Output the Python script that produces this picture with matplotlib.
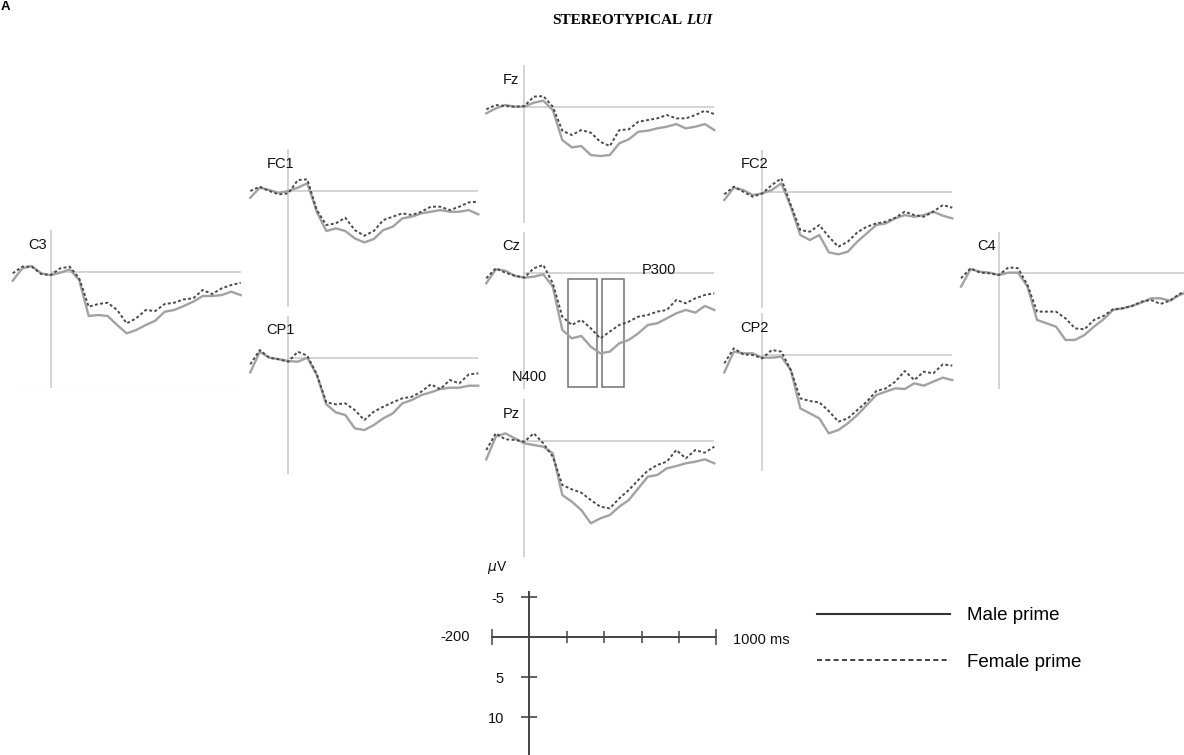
import matplotlib
matplotlib.use("Agg")
import matplotlib.pyplot as plt
from matplotlib.lines import Line2D
from matplotlib.patches import Rectangle

# ---------------- data (ms, microvolts; negative up) ----------------
TIME_MS = [-200, -150, -100, -50, 0, 50, 100, 150, 200, 250, 300, 350, 400,
           450, 500, 550, 600, 650, 700, 750, 800, 850, 900, 950, 1000]

FZ_MALE = [0.83, 0.21, -0.21, 0, 0, -0.5, -0.75, 0.42, 4.17, 5.08, 4.92, 6.04, 6.17,
           6.04, 4.58, 4.08, 3.13, 3.0, 2.71, 2.5, 2.17, 2.71, 2.5, 2.17, 2.92]
FZ_FEMALE = [0.33, -0.21, -0.08, 0, -0.08, -1.25, -1.33, 0, 3.0, 3.54, 2.92, 3.25, 4.38,
             4.92, 2.92, 2.83, 1.88, 1.67, 1.46, 1.04, 1.46, 1.46, 1.04, 0.5, 0.92]

CZ_MALE = [1.25, -0.5, -0.33, 0.33, 0.54, 0.42, 0.13, 1.67, 7.08, 8.13, 7.83, 9.17, 10.0,
           9.79, 8.75, 8.33, 7.5, 6.46, 6.25, 5.63, 5.0, 4.58, 4.92, 4.08, 4.58]
CZ_FEMALE = [0.63, -0.63, -0.08, 0.29, 0.54, -0.63, -1.04, 1.25, 5.42, 6.46, 5.83, 6.88, 8.13,
             7.29, 6.46, 6.04, 5.42, 5.21, 4.79, 4.58, 3.33, 3.75, 3.13, 2.71, 2.5]

C3_MALE = [1.13, -0.42, -0.71, 0.21, 0.42, 0.13, -0.29, 1.04, 5.54, 5.42, 5.54, 6.67, 7.71,
           7.29, 6.67, 6.13, 5.0, 4.79, 4.29, 3.75, 3.04, 3.04, 2.92, 2.5, 2.92]
C3_FEMALE = [0.21, -0.63, -0.63, 0.29, 0.42, -0.42, -0.63, 0.83, 4.38, 4.04, 3.88, 4.79, 6.46,
             5.83, 4.79, 4.92, 4.04, 3.88, 3.46, 3.33, 2.29, 2.79, 2.08, 1.67, 1.38]

FC1_MALE = [0.88, -0.38, -0.08, 0.25, 0.04, -0.38, -0.92, 2.63, 5.04, 4.71, 5.04, 5.96, 6.46,
            6.04, 4.92, 4.5, 3.46, 3.25, 2.83, 2.63, 2.42, 2.63, 2.63, 2.42, 2.96]
FC1_FEMALE = [0.04, -0.5, 0.04, 0.46, 0.33, -1.33, -1.42, 2.42, 4.29, 4.08, 3.38, 4.92, 5.63,
              5.04, 3.67, 3.25, 2.83, 3.04, 2.63, 2.0, 2.0, 2.42, 2.0, 1.46, 1.38]

CP1_MALE = [1.83, -0.75, 0, 0.17, 0.42, 0.5, 0, 2.17, 5.83, 6.83, 7.17, 8.83, 9.04,
            8.42, 7.58, 6.96, 5.71, 5.29, 4.67, 4.33, 3.92, 3.75, 3.75, 3.5, 3.5]
CP1_FEMALE = [0.83, -0.96, 0, 0.21, 0.5, -0.75, -0.25, 2.08, 5.58, 5.83, 5.71, 6.54, 7.79,
              6.75, 6.13, 5.58, 5.08, 4.88, 4.25, 3.33, 3.92, 2.79, 3.21, 2.08, 1.96]

PZ_MALE = [2.29, -0.54, -0.96, -0.33, 0.29, 0.5, 0.71, 1.54, 6.75, 7.58, 8.63, 10.29, 9.67,
           9.25, 8.21, 7.38, 5.92, 4.46, 4.25, 3.42, 3.13, 2.79, 2.58, 2.29, 2.79]
PZ_FEMALE = [1.13, -0.96, -0.21, -0.13, 0.08, -0.96, 0.29, 1.96, 5.5, 6.04, 6.46, 7.38, 8.21,
             8.42, 7.17, 6.13, 4.88, 3.71, 3.0, 2.58, 1.13, 2.17, 1.13, 1.46, 0.71]

FC2_MALE = [1.04, -0.5, -0.21, 0.42, 0.21, -0.21, -1.04, 1.88, 5.42, 6.04, 5.42, 7.58, 7.83,
            7.5, 6.25, 5.21, 4.17, 3.96, 3.33, 2.92, 3.13, 2.92, 2.5, 3.0, 3.33]
FC2_FEMALE = [0.33, -0.63, 0, 0.63, 0.21, -0.83, -1.67, 1.67, 4.79, 5.0, 4.17, 5.63, 6.88,
              6.25, 5.08, 4.38, 3.96, 3.75, 3.25, 2.5, 2.92, 3.13, 2.5, 1.67, 2.0]

CP2_MALE = [2.17, -0.42, -0.21, -0.21, 0.33, 0.33, 0.21, 1.88, 6.67, 7.29, 7.92, 9.79, 9.38,
            8.54, 7.5, 6.25, 5.0, 4.58, 4.17, 4.25, 3.54, 3.83, 3.33, 2.83, 3.13]
CP2_FEMALE = [1.04, -0.83, -0.08, 0, 0.42, -0.63, -0.42, 1.88, 5.42, 5.75, 5.92, 7.0, 8.33,
              7.92, 6.88, 5.83, 4.5, 4.17, 3.33, 2.0, 3.13, 2.08, 2.29, 1.17, 1.33]

C4_MALE = [1.67, -0.5, -0.21, -0.08, 0.21, -0.08, -0.08, 1.67, 5.83, 6.25, 6.67, 8.33, 8.33,
           7.71, 6.67, 5.75, 4.58, 4.38, 4.08, 3.67, 3.13, 3.13, 3.42, 2.71, 2.29]
C4_FEMALE = [0.63, -0.63, -0.08, 0, 0.21, -0.75, -0.63, 1.46, 4.79, 4.79, 4.79, 5.63, 6.88,
             7.0, 5.83, 5.33, 4.5, 4.38, 4.08, 3.54, 3.33, 3.83, 3.42, 2.58, 2.08]

ELECTRODES = ["Fz", "FC1", "FC2", "C3", "Cz", "C4", "CP1", "CP2", "Pz"]
SERIES = {
    "Fz": (FZ_MALE, FZ_FEMALE), "FC1": (FC1_MALE, FC1_FEMALE), "FC2": (FC2_MALE, FC2_FEMALE),
    "C3": (C3_MALE, C3_FEMALE), "Cz": (CZ_MALE, CZ_FEMALE), "C4": (C4_MALE, C4_FEMALE),
    "CP1": (CP1_MALE, CP1_FEMALE), "CP2": (CP2_MALE, CP2_FEMALE), "Pz": (PZ_MALE, PZ_FEMALE),
}

N400_WINDOW_MS = [230, 380]
P300_WINDOW_MS = [410, 525]
WINDOW_UV = [0.7, 14.2]

SCALE_TIME_TICKS = [200, 400, 600, 800]
SCALE_TIME_ENDS = [-200, 1000]
SCALE_UV_TICKS = [-5, 5, 10]
LEGEND_LABELS = ["Male prime", "Female prime"]

# ---------------- layout (pixels) ----------------
W, H = 1184, 755
SX = 0.19      # px per ms
SY = 8.0       # px per microvolt
UV_TOP, UV_BOT = -5.2, 14.5
ANCHORS = {  # (x of time 0, y of baseline) in pixels
    "Fz": (524.3, 106.7), "FC1": (288.3, 190.7), "FC2": (762.3, 191.7),
    "C3": (50.7, 271.7), "Cz": (524.3, 273.3), "C4": (999.0, 273.3),
    "CP1": (288.3, 357.7), "CP2": (762.3, 355.0), "Pz": (524.3, 441.0),
}

plt.rcParams["font.family"] = ["Liberation Sans", "DejaVu Sans"]
fig = plt.figure(figsize=(W / 100, H / 100), dpi=100)
fig.patch.set_facecolor("white")

GRID_C = "#c9c9c9"
MALE_C = "#a2a2a2"
FEMALE_C = "#4a4a4a"


def add_px_axes(left, top, width, height):
    return fig.add_axes([left / W, 1 - (top + height) / H, width / W, height / H])


for name in ELECTRODES:
    x0, y0 = ANCHORS[name]
    ax = add_px_axes(x0 - 200 * SX, y0 + UV_TOP * SY, 1200 * SX, (UV_BOT - UV_TOP) * SY)
    ax.set_xlim(-200, 1000)
    ax.set_ylim(UV_BOT, UV_TOP)
    ax.axis("off")
    ax.axvline(0, color=GRID_C, lw=1.1, zorder=1)
    ax.hlines(0, 0, 1000, color=GRID_C, lw=1.1, zorder=1)
    if name == "C3":
        ax.hlines(UV_BOT, -200, 1000, color="#ececec", lw=1.0, zorder=1)
    male, female = SERIES[name]
    ax.plot(TIME_MS, male, color=MALE_C, lw=1.7, solid_joinstyle="round", zorder=3, clip_on=False)
    ax.plot(TIME_MS, female, color=FEMALE_C, lw=1.4, ls=(0, (1.5, 1.2)), zorder=4, clip_on=False)
    ax.text(-116, -3.4, name, ha="left", va="center", fontsize=10.5, color="#111111")
    if name == "Cz":
        for win in (N400_WINDOW_MS, P300_WINDOW_MS):
            ax.add_patch(Rectangle((win[0], WINDOW_UV[0]), win[1] - win[0],
                                   WINDOW_UV[1] - WINDOW_UV[0], fill=False,
                                   edgecolor="#707070", lw=1.1, zorder=2))
        ax.text(619, -0.4, "P300", ha="left", va="center", fontsize=10.5, color="#111111")
        ax.text(-65, 13.0, "N400", ha="left", va="center", fontsize=10.5, color="#111111")

# ---------------- scale bar ----------------
SSX = 0.1875
SSY = 8.0
sx0, sy0 = 529.0, 636.7
s_top, s_bot = -5.6, (H - sy0) / SSY
sax = add_px_axes(sx0 - 200 * SSX, sy0 + s_top * SSY, 1200 * SSX, (s_bot - s_top) * SSY)
sax.set_xlim(-200, 1000)
sax.set_ylim(s_bot, s_top)
sax.patch.set_alpha(0)
for side in ("top", "right"):
    sax.spines[side].set_visible(False)
sax.spines["left"].set_position(("data", 0))
sax.spines["bottom"].set_position(("data", 0))
sax.spines["bottom"].set_bounds(-200, 1000)
sax.spines["left"].set_bounds(s_top, s_bot)
for side in ("left", "bottom"):
    sax.spines[side].set_color("#444444")
    sax.spines[side].set_linewidth(1.4)
sax.set_xticks(SCALE_TIME_TICKS)
sax.set_xticks(SCALE_TIME_ENDS, minor=True)
sax.set_yticks(SCALE_UV_TICKS)
sax.tick_params(axis="x", which="major", direction="inout", length=8.6, width=1.1,
                color="#444444", labelbottom=False)
sax.tick_params(axis="x", which="minor", direction="inout", length=11.5, width=1.1,
                color="#444444", labelbottom=False)
sax.tick_params(axis="y", which="major", direction="inout", length=11.5, width=1.2,
                color="#444444", labelleft=False)
for v in SCALE_UV_TICKS:
    sax.text(-133, v + 0.3, f"{v}", ha="right", va="center", fontsize=10.5, color="#111111")
sax.text(-315, 0, f"{SCALE_TIME_ENDS[0]}", ha="right", va="center", fontsize=10.5, color="#111111")
sax.text(1088, 0.4, f"{SCALE_TIME_ENDS[1]} ms", ha="left", va="center", fontsize=10.5,
         color="#111111")
sax.text(-170, -8.6, r"$\mu$V", ha="center", va="center", fontsize=10, color="#111111")

# ---------------- legend ----------------
handles = [Line2D([], [], color="#333333", lw=1.5),
           Line2D([], [], color="#333333", lw=1.3, ls=(0, (2.8, 1.8)))]
fig.legend(handles, LEGEND_LABELS, loc="upper left",
           bbox_to_anchor=(817 / W, 1 - 607 / H), frameon=False, fontsize=13.5,
           handlelength=7.1, handletextpad=0.9, labelspacing=1.57,
           borderpad=0, borderaxespad=0)

# ---------------- titles ----------------
fig.text(682 / W, 1 - 21 / H, "STEREOTYPICAL", ha="right", va="center",
         fontsize=11, fontweight="bold", family="Liberation Serif")
fig.text(686 / W, 1 - 21 / H, "LUI", ha="left", va="center", fontsize=11,
         fontweight="bold", style="italic", family="Liberation Serif")
fig.text(1 / W, 1 - 1 / H, "A", ha="left", va="top", fontsize=9.5,
         fontweight="bold")

fig.savefig("out.png", dpi=100, facecolor="white")
